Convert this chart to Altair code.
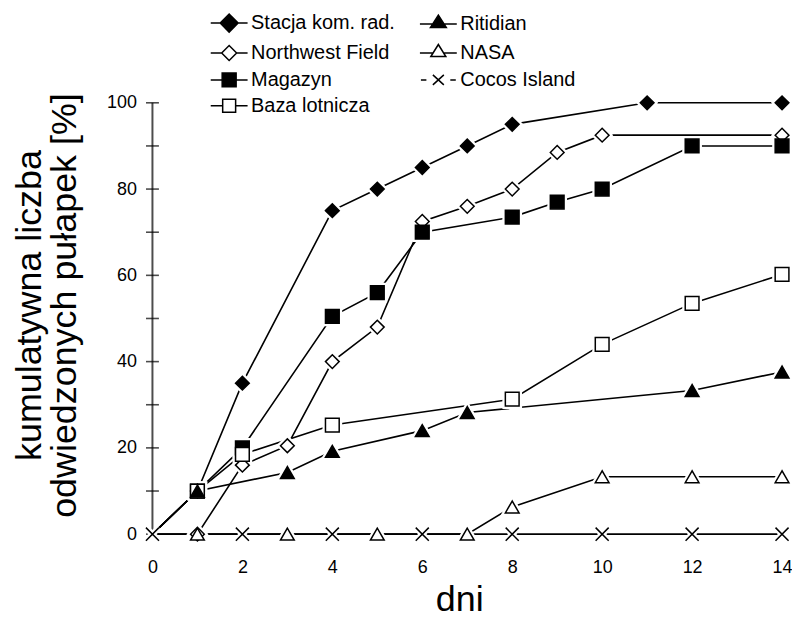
import altair as alt
import pandas as pd

# ---------------- data ----------------
series_names = ["Stacja kom. rad.", "Northwest Field", "Magazyn", "Baza lotnicza",
                "Ritidian", "NASA", "Cocos Island"]

stacja_days = [0, 1, 2, 4, 5, 6, 7, 8, 11, 14]
stacja_vals = [0, 10, 35, 75, 80, 85, 90, 95, 100, 100]

northwest_days = [0, 1, 2, 3, 4, 5, 6, 7, 8, 9, 10, 14]
northwest_vals = [0, 0, 16, 20.5, 40, 48, 72.5, 76, 80, 88.5, 92.5, 92.5]

magazyn_days = [0, 1, 2, 4, 5, 6, 8, 9, 10, 12, 14]
magazyn_vals = [0, 10, 20, 50.5, 56, 70, 73.5, 77, 80, 90, 90]

baza_days = [0, 1, 2, 4, 8, 10, 12, 14]
baza_vals = [0, 10, 18.5, 25.3, 31.3, 44, 53.5, 60.2]

ritidian_days = [0, 1, 3, 4, 6, 7, 12, 14]
ritidian_vals = [0, 10, 14.3, 19.2, 24, 28.2, 33.3, 37.6]

nasa_days = [1, 3, 5, 7, 8, 10, 12, 14]
nasa_vals = [0, 0, 0, 0, 6.3, 13.3, 13.3, 13.3]

cocos_days = [0, 2, 4, 6, 8, 10, 12, 14]
cocos_vals = [0, 0, 0, 0, 0, 0, 0, 0]

x_ticks = [0, 2, 4, 6, 8, 10, 12, 14]
y_labels = [0, 20, 40, 60, 80, 100]
y_ticks = [0, 10, 20, 30, 40, 50, 60, 70, 80, 90, 100]
y_extent = [0, 100]

all_days = [stacja_days, northwest_days, magazyn_days, baza_days,
            ritidian_days, nasa_days, cocos_days]
all_vals = [stacja_vals, northwest_vals, magazyn_vals, baza_vals,
            ritidian_vals, nasa_vals, cocos_vals]

rows = []
for name, ds, vs in zip(series_names, all_days, all_vals):
    for d, v in zip(ds, vs):
        rows.append({"series": name, "day": d, "value": v})
df = pd.DataFrame(rows)
ticks_df = pd.DataFrame({"value": y_ticks})
axis_mid_df = pd.DataFrame({"value": [sum(y_extent) / 2]})

PLOT_W, PLOT_H = 632, 433

# ---------------- styles ----------------
FONT = "Liberation Sans"
x_path = "M-0.95,-0.95L0.95,0.95M0.95,-0.95L-0.95,0.95"
plot_shapes = ["diamond", "diamond", "square", "square",
               "triangle-up", "triangle-up", x_path]
plot_fills = ["black", "white", "black", "white", "black", "white", "black"]

legend_paths = [
    "M-3.7,0H-1.8M1.8,0H3.7M-1.8,0L0,-1.8L1.8,0L0,1.8Z",
    "M-3.7,0H-1.5M1.5,0H3.7M-1.5,0L0,-1.5L1.5,0L0,1.5Z",
    "M-3.7,0H-1.4M1.4,0H3.7M-1.4,-1.4H1.4V1.4H-1.4Z",
    "M-3.7,0H-1.3M1.3,0H3.7M-1.3,-1.3H1.3V1.3H-1.3Z",
    "M-3.7,0H-1.1M1.1,0H3.7M-1.6,0.7L0,-1.8L1.6,0.7Z",
    "M-3.7,0H-1.1M1.1,0H3.7M-1.5,0.7L0,-1.7L1.5,0.7Z",
    "M-3.5,0H-2.4M2.4,0H3.5M-1.1,-1L1.1,1M1.1,-1L-1.1,1",
]
legend_fills = ["black", "white", "black", "white", "black", "white", "black"]

x_axis = alt.Axis(values=x_ticks, ticks=False, domain=False, grid=False,
                  labelFlush=False,
                  labelFont=FONT, labelFontSize=18, labelColor="black",
                  labelPadding=24, title="dni", titleFont=FONT,
                  titleFontSize=36, titleFontWeight="normal",
                  titleColor="black", titleX=308, titleY=49)
y_axis = alt.Axis(values=y_labels, ticks=False, grid=False, domain=False,
                  labelFlush=False,
                  labelFont=FONT, labelFontSize=18, labelColor="black",
                  labelPadding=16,
                  title=["kumulatywna liczba", "odwiedzonych pułapek [%]"],
                  titleFont=FONT, titleFontSize=36, titleFontWeight="normal",
                  titleColor="black", titleLineHeight=35,
                  titleX=-104, titleY=203)

x_scale = alt.Scale(domain=[0, 14], nice=False)
y_scale = alt.Scale(domain=[0, 100], nice=False)

shape_plot = alt.Shape("series:N", scale=alt.Scale(domain=series_names, range=plot_shapes),
                       legend=None)
fill_plot = alt.Fill("series:N", scale=alt.Scale(domain=series_names, range=plot_fills),
                     legend=None)

base = alt.Chart(df)

lines = base.mark_line(color="black", strokeWidth=1.6).encode(
    x=alt.X("day:Q", scale=x_scale, axis=x_axis),
    y=alt.Y("value:Q", scale=y_scale, axis=y_axis),
    detail="series:N", order="day:Q")

# vertical axis line: one long vertical tick spanning the plot height
axis_vline = alt.Chart(axis_mid_df).mark_tick(
    orient="vertical", color="black", size=PLOT_H, thickness=2
).encode(x=alt.datum(0), y=alt.Y("value:Q"))

marker_filter = "datum.day > 0 || datum.series == 'Cocos Island'"

halo = base.transform_filter(marker_filter).mark_point(
    filled=True, fill="white", stroke="white", strokeWidth=6, opacity=1, size=190
).encode(x="day:Q", y="value:Q", shape=shape_plot)

points = base.transform_filter(marker_filter).mark_point(
    filled=True, stroke="black", strokeWidth=1.5, opacity=1, size=190
).encode(x="day:Q", y="value:Q", shape=shape_plot, fill=fill_plot)

# ticks crossing the vertical axis (both sides)
yticks = alt.Chart(ticks_df).mark_tick(
    orient="horizontal", color="black", size=13, thickness=1.6
).encode(y=alt.Y("value:Q"), x=alt.datum(0))

leg = dict(orient="none", legendX=67, legendY=-90, columns=2, title=None,
           labelFont=FONT, labelFontSize=20, labelColor="black", labelOffset=12,
           symbolSize=100, symbolStrokeWidth=1.5, rowPadding=6, columnPadding=21)

legend_layer = base.transform_filter("false").mark_point(
    filled=True, stroke="black", strokeWidth=1.5, opacity=1
).encode(
    x="day:Q", y="value:Q",
    shape=alt.Shape("series:N", scale=alt.Scale(domain=series_names, range=legend_paths),
                    legend=alt.Legend(**leg)),
    fill=alt.Fill("series:N", scale=alt.Scale(domain=series_names, range=legend_fills),
                  legend=alt.Legend(**leg)),
)

chart = alt.layer(lines, axis_vline, yticks, halo, points, legend_layer).resolve_scale(
    shape="independent", fill="independent"
).properties(
    width=PLOT_W, height=PLOT_H,
    autosize=alt.AutoSizeParams(type="none"),
    padding={"left": 145, "top": 94, "right": 10, "bottom": 83},
).configure_view(strokeWidth=0)

chart.save("out.html", embed_options={"renderer": "svg", "actions": False})
